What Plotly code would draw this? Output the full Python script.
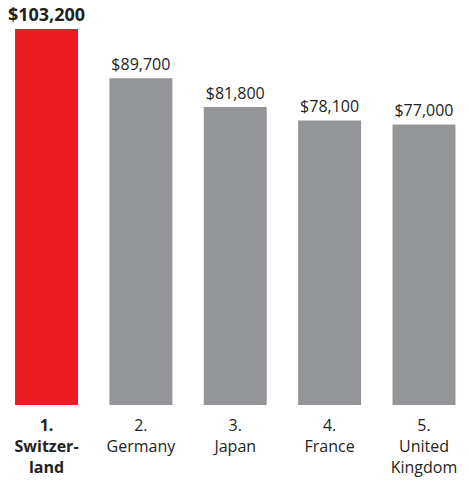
import plotly.graph_objects as go

# data
ranks = ["1.", "2.", "3.", "4.", "5."]
countries = ["Switzer-<br>land", "Germany", "Japan", "France", "United<br>Kingdom"]
values = [103200, 89700, 81800, 78100, 77000]
bar_colors = ["#ED1C24", "#939598", "#939598", "#939598", "#939598"]

labels = []
ticks = []
for n in range(len(values)):
    txt = "${:,}".format(values[n])
    tk = ranks[n] + "<br>" + countries[n]
    if n == 0:
        txt = "<b>" + txt + "</b>"
        tk = "<b>" + tk + "</b>"
    labels.append(txt)
    ticks.append(tk)

fig = go.Figure(go.Bar(
    x=list(range(len(values))),
    y=values,
    marker=dict(color=bar_colors, line=dict(width=0)),
    text=labels,
    textposition="outside",
    constraintext="none",
    textfont=dict(family="Open Sans", size=[18, 16, 16, 16, 16], color="#231F20"),
    cliponaxis=False,
    hoverinfo="skip",
))

fig.update_layout(
    width=469, height=480,
    margin=dict(l=0, r=0, t=0, b=75),
    paper_bgcolor="white", plot_bgcolor="white",
    bargap=0.333,
    showlegend=False,
    font=dict(family="Open Sans", color="#231F20"),
)
fig.update_xaxes(
    range=[-0.493, 4.477],
    tickmode="array", tickvals=list(range(len(values))), ticktext=ticks,
    tickfont=dict(size=16, color="#231F20"),
    ticklabelstandoff=9,
    ticks="", showgrid=False, zeroline=False, showline=False,
)
fig.update_yaxes(range=[0, 111160], visible=False, showgrid=False)

# page margin off so the figure sits at the window corner
fig.write_html("out.html", config={"displayModeBar": False},
               post_script="document.body.style.margin='0';")
